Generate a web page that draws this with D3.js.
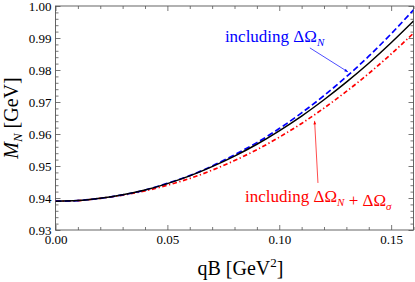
<!DOCTYPE html>
<html>
<head>
<meta charset="utf-8">
<script src="https://cdn.jsdelivr.net/npm/d3@7"></script>
<style>
  html,body{margin:0;padding:0;background:#fff;}
  svg{display:block;font-family:"Liberation Serif","Times New Roman",serif;}
</style>
</head>
<body>
<div id="chart"></div>
<script>
// qB in GeV^2
const qB = [0,0.01,0.02,0.03,0.04,0.05,0.06,0.07,0.08,0.09,0.10,0.11,0.12,0.13,0.14,0.15,0.16];
// nucleon mass, black solid
const massBase = [0.9390,0.9392,0.9399,0.9410,0.9425,0.9445,0.9469,0.9498,0.9531,0.9568,0.9610,0.9656,0.9707,0.9762,0.9821,0.9885,0.9953];
// including dOmega_N, blue dashed
const massN = [0.9390,0.9392,0.9399,0.9410,0.9425,0.9446,0.9470,0.9500,0.9535,0.9573,0.9617,0.9666,0.9720,0.9779,0.9843,0.9913,0.9988];
// including dOmega_N + dOmega_sigma, red dash-dot
const massNSigma = [0.9390,0.9392,0.9399,0.9409,0.9422,0.9440,0.9461,0.9487,0.9517,0.9551,0.9590,0.9633,0.9681,0.9733,0.9789,0.9850,0.9915];

const xMajor = [0,0.05,0.10,0.15];
const xMinor = [0.01,0.02,0.03,0.04,0.06,0.07,0.08,0.09,0.11,0.12,0.13,0.14,0.16];
const yMajor = [0.93,0.94,0.95,0.96,0.97,0.98,0.99,1.00];

const w = 415, h = 282;
const pLeft = 55.5, pRight = 413.5, pTop = 6, pBottom = 230;

const x = d3.scaleLinear().domain([0,0.16]).range([pLeft,pRight]);
const y = d3.scaleLinear().domain([0.93,1.00]).range([pBottom,pTop]);

const yMinor = [];
yMajor.forEach((v,i)=>{
  if(i===yMajor.length-1) return;
  [1,2,3,4].forEach(k=>yMinor.push(+(v+k*0.002).toFixed(3)));
});

const svg = d3.select("#chart").append("svg")
  .attr("width",w).attr("height",h)
  .attr("viewBox","0 0 "+w+" "+h);

const frameCol = "#555";

function ticks(axisFn, pos, vals, size, labels, pad){
  const a = axisFn.tickValues(vals).tickSize(-size).tickPadding(pad||0);
  if(!labels) a.tickFormat("");
  const g = svg.append("g").attr("transform",pos).call(a);
  g.select(".domain").remove();
  g.selectAll(".tick line").attr("stroke",frameCol).attr("stroke-width",0.8);
  g.selectAll("text").attr("fill","#000").style("font-size","13px")
    .style("font-family","'Liberation Serif',serif");
  return g;
}

// bottom
ticks(d3.axisBottom(x), "translate(0,"+pBottom+")", xMajor, 5, true, 5)
  .selectAll("text").text(d=>d.toFixed(2));
ticks(d3.axisBottom(x), "translate(0,"+pBottom+")", xMinor, 3, false);
// top
ticks(d3.axisTop(x), "translate(0,"+pTop+")", xMajor, 5, false);
ticks(d3.axisTop(x), "translate(0,"+pTop+")", xMinor, 3, false);
// left
ticks(d3.axisLeft(y), "translate("+pLeft+",0)", yMajor, 5, true, 4)
  .selectAll("text").text(d=>d.toFixed(2));
ticks(d3.axisLeft(y), "translate("+pLeft+",0)", yMinor, 3, false);
// right
ticks(d3.axisRight(y), "translate("+pRight+",0)", yMajor, 5, false);
ticks(d3.axisRight(y), "translate("+pRight+",0)", yMinor, 3, false);

svg.append("rect")
  .attr("x",pLeft).attr("y",pTop)
  .attr("width",pRight-pLeft).attr("height",pBottom-pTop)
  .attr("fill","none").attr("stroke",frameCol).attr("stroke-width",0.9);

const defs = svg.append("defs");
defs.append("clipPath").attr("id","plotClip")
  .append("rect").attr("x",pLeft).attr("y",pTop)
  .attr("width",pRight-pLeft).attr("height",pBottom-pTop);

const line = d3.line()
  .x((d,i)=>x(qB[i]))
  .y(d=>y(d))
  .curve(d3.curveMonotoneX);

const plot = svg.append("g").attr("clip-path","url(#plotClip)");

plot.append("path").datum(massNSigma)
  .attr("d",line).attr("fill","none")
  .attr("stroke","#ff0000").attr("stroke-width",1.7)
  .attr("stroke-dasharray","4.5,2.5,1.3,2.5");

plot.append("path").datum(massN)
  .attr("d",line).attr("fill","none")
  .attr("stroke","#0000ff").attr("stroke-width",1.7)
  .attr("stroke-dasharray","6,3");

plot.append("path").datum(massBase)
  .attr("d",line).attr("fill","none")
  .attr("stroke","#000").attr("stroke-width",1.5);

// annotations (data coords)
const blueArrow = [[0.1137,0.9869],[0.1307,0.9794]];
const redArrow = [[0.1173,0.9447],[0.1158,0.9641]];
const blueLabelAt = [0.0757,0.9888];
const redLabelAt = [0.0847,0.93875];

function arrow(pts, col, id){
  defs.append("marker").attr("id",id)
    .attr("viewBox","0 0 10 10").attr("refX",10).attr("refY",5)
    .attr("markerWidth",6).attr("markerHeight",5)
    .attr("orient","auto")
    .append("path").attr("d","M0,1L10,5L0,9z").attr("fill",col);
  svg.append("line")
    .attr("x1",x(pts[0][0])).attr("y1",y(pts[0][1]))
    .attr("x2",x(pts[1][0])).attr("y2",y(pts[1][1]))
    .attr("stroke",col).attr("stroke-width",0.7)
    .attr("marker-end","url(#"+id+")");
}
arrow(blueArrow,"#0000ff","arrBlue");
arrow(redArrow,"#ff0000","arrRed");

function sub(t, main, s, italic){
  t.append("tspan").text(main);
  t.append("tspan").attr("dy",4).style("font-size","11px")
    .style("font-style",italic?"italic":"normal").text(s);
  t.append("tspan").attr("dy",-4).text("");
}

const tb = svg.append("text")
  .attr("x",x(blueLabelAt[0])).attr("y",y(blueLabelAt[1]))
  .attr("fill","#0000ff").style("font-size","17px");
sub(tb,"including \u0394\u03A9","N",true);

const tr = svg.append("text")
  .attr("x",x(redLabelAt[0])).attr("y",y(redLabelAt[1]))
  .attr("fill","#ff0000").style("font-size","17px");
sub(tr,"including \u0394\u03A9","N",true);
tr.append("tspan").text(" + \u0394\u03A9");
tr.append("tspan").attr("dy",4).style("font-size","11px").style("font-style","italic").text("\u03C3");

// axis titles
const xt = svg.append("text")
  .attr("x",(pLeft+pRight)/2+6).attr("y",275)
  .attr("text-anchor","middle").style("font-size","20px");
xt.append("tspan").text("qB [GeV");
xt.append("tspan").attr("dy",-8).style("font-size","13px").text("2");
xt.append("tspan").attr("dy",8).text("]");

const yt = svg.append("text")
  .attr("transform","translate(18,"+((pTop+pBottom)/2)+") rotate(-90)")
  .attr("text-anchor","middle").style("font-size","20px");
yt.append("tspan").style("font-style","italic").text("M");
yt.append("tspan").attr("dy",4).style("font-size","13px").style("font-style","italic").text("N");
yt.append("tspan").attr("dy",-4).text(" [GeV]");
</script>
</body>
</html>
